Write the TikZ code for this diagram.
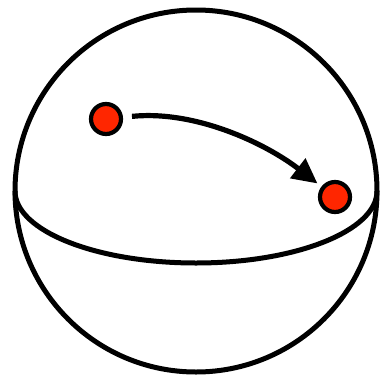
\documentclass[tikz,border=0pt]{standalone}
\usetikzlibrary{positioning,arrows.meta}
\definecolor{dotred}{RGB}{255,38,0}
\tikzset{
  spherearc/.style={line width=5pt},
  pointnode/.style={circle, draw, line width=4.2pt, fill=dotred, minimum size=30pt, inner sep=0pt},
  flowarrow/.style={-{Triangle[length=25pt, width=24pt]}, line width=5.2pt, shorten <=9pt, shorten >=5pt}
}
\begin{document}
\begin{tikzpicture}[x=1pt, y=-1pt]
  \useasboundingbox (0,0) rectangle (380,378);
  \node[circle, draw, spherearc, minimum size=362pt, inner sep=0pt, outer sep=0pt] (sphere) at (196,191) {};
  \draw[spherearc] (sphere.west) arc[start angle=180, end angle=0, x radius=181, y radius=72];
  \node[pointnode] (start) at (106,119) {};
  \node[pointnode] (finish) at (335,197) {};
  \draw[flowarrow] (start) .. controls (195,110) and (265,143) .. (finish);
\end{tikzpicture}
\end{document}
